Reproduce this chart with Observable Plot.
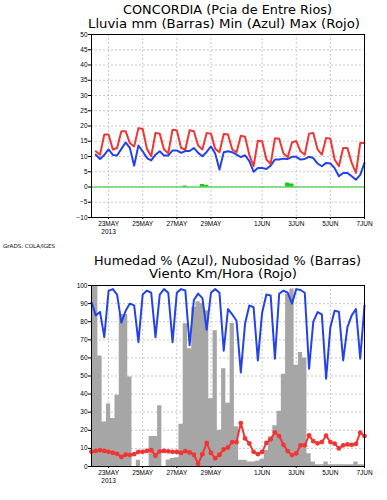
<!DOCTYPE html>
<html><head><meta charset="utf-8">
<script src="https://cdn.jsdelivr.net/npm/d3@7"></script>
<script src="https://cdn.jsdelivr.net/npm/@observablehq/plot@0.6"></script>
<style>
body{margin:0;background:#fff;}
#wrap{position:relative;width:387px;height:500px;overflow:hidden;background:#fff;}
#wrap .pane{position:absolute;left:0;}
#overlay{position:absolute;left:0;top:0;pointer-events:none;}
</style></head>
<body><div id="wrap"></div>
<script>
// ---- axis / tick definitions ----
const tickDays = ["2013-05-23","2013-05-25","2013-05-27","2013-05-29","2013-06-01","2013-06-03","2013-06-05","2013-06-07"];
const tickLabels = ["23MAY\n2013","25MAY","27MAY","29MAY","1JUN","3JUN","5JUN","7JUN"];
const tempTicks = [-10,-5,0,5,10,15,20,25,30,35,40,45,50];
const pctTicks = [0,10,20,30,40,50,60,70,80,90,100];

// ---- top panel: 6-hourly from 22MAY 06Z to 7JUN 00Z ----
const tmax = [11.7,10.6,17.2,17.2,12.3,12.8,18.3,18.3,14.4,13.3,19.3,19.0,12.5,10.1,17.7,17.5,
  12.3,11.1,18.8,18.6,12.8,12.3,18.6,18.3,13.6,12.3,17.7,17.5,12.5,11.4,17.4,17.2,
  12.3,11.4,16.8,16.5,10.5,6.8,15.2,15.0,9.0,7.5,16.0,15.8,11.0,9.8,14.6,15.1,
  11.7,10.6,17.5,17.7,12.3,10.6,16.1,15.8,9.0,6.8,12.8,12.8,7.9,4.6,14.4,14.4];
const tmin = [10.6,9.2,10.5,12.3,10.5,10.3,12.5,14.6,12.8,7.0,13.6,11.7,9.5,8.7,10.6,11.7,
  10.3,10.3,12.0,12.0,11.2,11.8,11.8,12.8,11.2,10.1,11.5,13.3,11.0,5.7,11.4,11.7,
  11.4,10.6,9.8,10.4,8.5,5.0,6.2,6.2,5.9,7.0,9.0,9.0,9.3,9.2,9.9,9.9,
  9.0,9.2,9.9,9.5,7.7,6.8,7.9,7.7,6.2,3.5,4.6,4.6,3.5,2.4,4.0,7.9];
const rain = [0,0,0,0,0,0,0,0,0,0,0,0,0,0,0,0,
  0,0,0,0,0,0.3,0,0,0,0.8,0.6,0,0,0,0,0,
  0,0,0,0,0,0,0,0,0,0,0,0,0,1.3,1.0,0,
  0,0,0,0,0,0,0,0,0,0,0,0,0,0,0,0];

// ---- bottom panel: 6-hourly from 22MAY 00Z to 7JUN 00Z ----
const humidity = [90.8,83.5,85.4,71.5,97.0,98.0,95.0,79.5,86.0,90.0,89.0,68.7,95.0,97.2,96.0,71.5,
  95.0,98.0,96.0,68.7,96.0,98.0,97.2,67.0,92.0,95.5,93.0,75.5,96.0,98.0,96.0,64.0,
  87.0,84.0,80.5,52.0,79.0,89.0,88.0,58.6,85.0,95.0,94.5,59.6,95.4,97.2,96.0,90.0,
  98.0,97.5,96.0,54.0,80.0,85.3,84.0,48.5,77.0,86.0,85.5,58.6,77.0,83.5,87.0,59.6,89.0];
const cloud = [100,100,61,24.6,34.5,26.5,39.3,84,84,49.5,0,3.5,0,0,16.6,16.6,
  33.5,0,3.6,4.4,4.8,23.3,78.9,65,88,91,90,86,37.5,75,20,54,
  35,79,22,3.5,3.5,2.5,2.5,3,4,9,16.5,22.5,30.5,51,95,98,
  56,63,60,7,2.5,1,1,2.5,1,1,1,1,1,1,2.5,1,1];
const wind = [8.2,8.6,9.0,8.6,8.1,7.5,7.0,5.3,6.5,6.3,6.8,8.1,8.1,8.6,9.0,6.0,
  8.4,8.6,8.4,8.1,8.0,7.5,8.5,7.8,6.5,1.5,6.8,13.0,7.5,4.5,6.5,9.5,
  10.5,13.5,13.5,24.0,15.5,12.7,8.1,6.8,8.1,13.0,15.0,18.8,16.8,12.0,8.5,6.3,
  7.2,11.7,11.7,17.2,14.0,12.8,13.5,17.0,13.5,12.6,10.0,11.7,12.2,12.0,12.5,18.7,16.8];

const START = Date.UTC(2013,4,22,0);
const END = Date.UTC(2013,5,7,0);
const STEP = 6*3600*1000;
const tickDates = tickDays.map(s => new Date(s + "T00:00:00Z"));
const labelMap = new Map(tickDates.map((d,i) => [+d, tickLabels[i]]));

const topRows = tmax.map((v,k) => ({t: new Date(START + (k+1)*STEP), tmax: v, tmin: tmin[k], rain: rain[k]}));
const botRows = humidity.map((v,i) => ({t: new Date(START + i*STEP), hum: v, cloud: cloud[i], wind: wind[i]}));

const RED = "#f03535", BLUE = "#2343e8", GREEN = "#1ec81e", GRAY = "#a6a6a6";
const gridStyle = {stroke: "#bdbdbd", strokeOpacity: 1, strokeWidth: 0.8, strokeDasharray: "2,2"};
const style = {fontFamily: "'Liberation Sans', sans-serif", fontSize: "6.5px", background: "white", color: "black", overflow: "visible"};

function xAxis() {
  return Plot.axisX(tickDates, {tickSize: 2, tickPadding: 1.5, lineHeight: 1.15, label: null,
    tickFormat: d => labelMap.get(+d), fontSize: 6.5});
}

const p1 = Plot.plot({
  width: 387, height: 240, marginTop: 34, marginBottom: 23, marginLeft: 91, marginRight: 23,
  style,
  x: {type: "utc", domain: [new Date(START), new Date(END)]},
  y: {domain: [-10, 50]},
  marks: [
    Plot.gridY(tempTicks, gridStyle),
    Plot.gridX(tickDates, gridStyle),
    Plot.areaY(topRows, {x: "t", y1: 0, y2: "rain", curve: "step", fill: GREEN}),
    Plot.ruleY([0], {stroke: GREEN, strokeWidth: 1.2}),
    Plot.line(topRows, {x: "t", y: "tmin", stroke: BLUE, strokeWidth: 2}),
    Plot.line(topRows, {x: "t", y: "tmax", stroke: RED, strokeWidth: 2}),
    Plot.frame({stroke: "black", strokeWidth: 1}),
    Plot.axisY(tempTicks, {tickSize: 3, tickPadding: 1, label: null, fontSize: 6.5}),
    xAxis()
  ]
});

const p2 = Plot.plot({
  width: 387, height: 250, marginTop: 35, marginBottom: 34, marginLeft: 91, marginRight: 23,
  style,
  x: {type: "utc", domain: [new Date(START), new Date(END)]},
  y: {domain: [0, 100]},
  marks: [
    Plot.gridY(pctTicks, gridStyle),
    Plot.gridX(tickDates, gridStyle),
    Plot.areaY(botRows, {x: "t", y1: 0, y2: "cloud", curve: "step", fill: GRAY}),
    Plot.line(botRows, {x: "t", y: "hum", stroke: BLUE, strokeWidth: 2}),
    Plot.line(botRows, {x: "t", y: "wind", stroke: RED, strokeWidth: 2}),
    Plot.dot(botRows, {x: "t", y: "wind", r: 2.4, fill: RED, stroke: "none"}),
    Plot.frame({stroke: "black", strokeWidth: 1}),
    Plot.axisY(pctTicks, {tickSize: 3, tickPadding: 1, label: null, fontSize: 6.5}),
    xAxis()
  ]
});

const wrap = document.getElementById("wrap");
const d1 = document.createElement("div"); d1.className = "pane"; d1.style.top = "0px"; d1.appendChild(p1); wrap.appendChild(d1);
const d2 = document.createElement("div"); d2.className = "pane"; d2.style.top = "250px"; d2.appendChild(p2); wrap.appendChild(d2);

// ---- titles (real text) ----
const titles = [
  {text: "CONCORDIA (Pcia de Entre Rios)", x: 123, y: 14, w: 209, size: 12.5},
  {text: "Lluvia mm (Barras) Min (Azul) Max (Rojo)", x: 88, y: 27.5, w: 272, size: 12.5},
  {text: "GrADS: COLA/IGES", x: 3, y: 248, w: 52, size: 5.5},
  {text: "Humedad % (Azul), Nubosidad % (Barras)", x: 94, y: 264.5, w: 267, size: 12},
  {text: "Viento Km/Hora (Rojo)", x: 149, y: 278, w: 148, size: 12}
];
const ov = d3.select(wrap).append("svg").attr("id", "overlay").attr("width", 387).attr("height", 500);
ov.selectAll("text").data(titles).join("text")
  .attr("x", d => d.x).attr("y", d => d.y)
  .attr("textLength", d => d.w).attr("lengthAdjust", "spacingAndGlyphs")
  .attr("font-family", "'DejaVu Sans', sans-serif").attr("font-size", d => d.size)
  .attr("fill", "black")
  .text(d => d.text);
</script>
</body></html>
